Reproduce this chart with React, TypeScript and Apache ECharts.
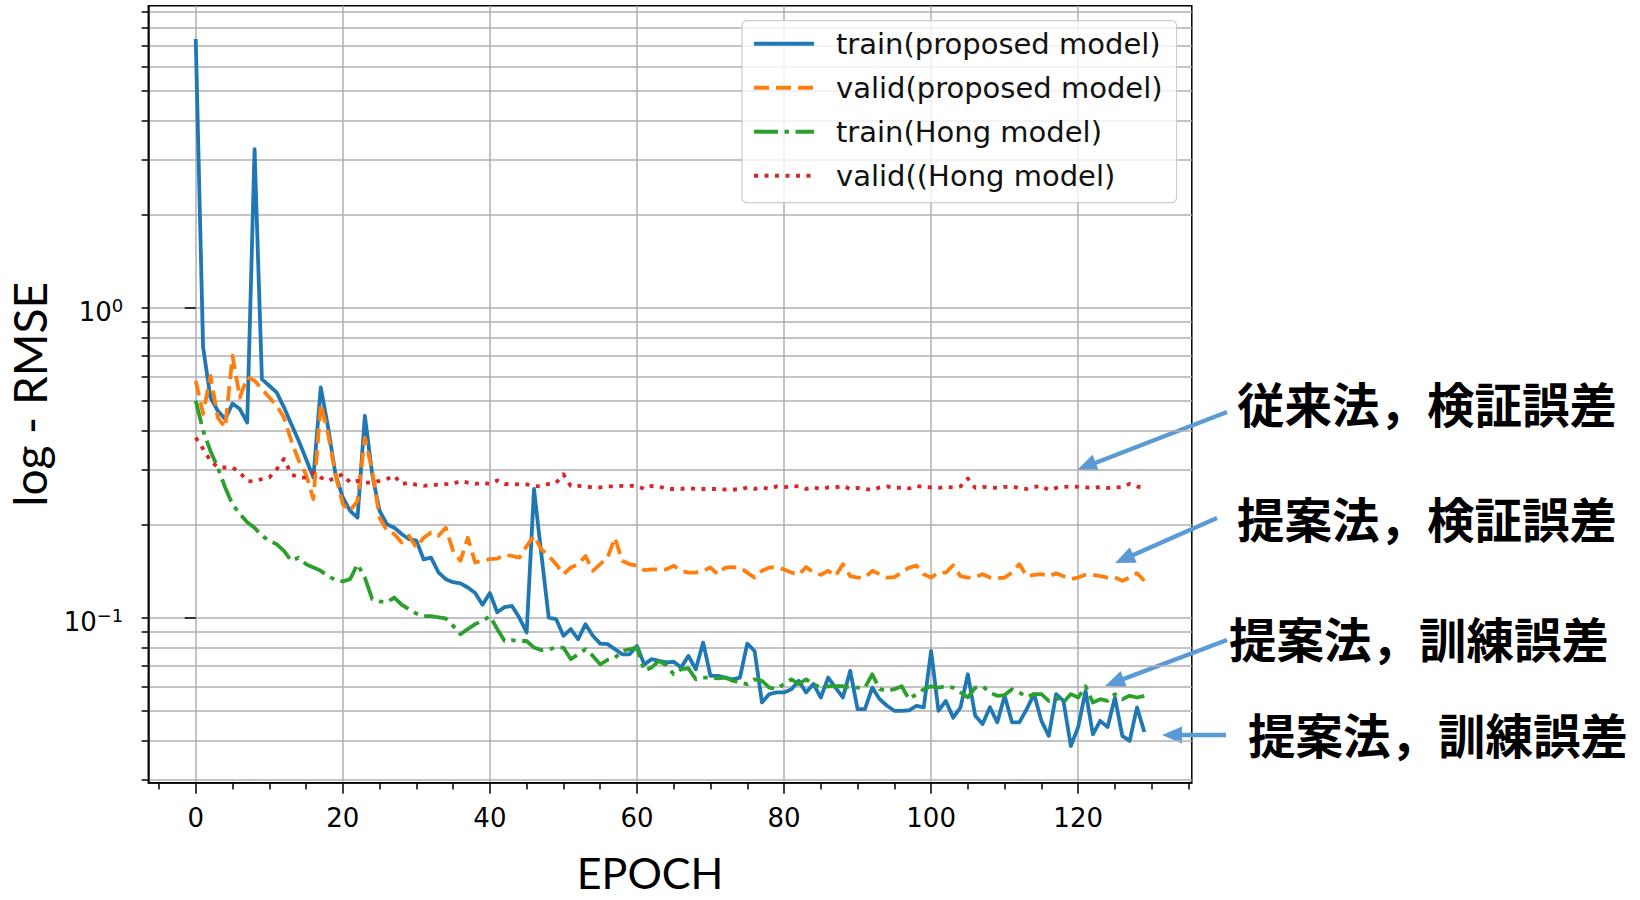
import React, { useEffect, useRef } from "react";
import * as echarts from "echarts";

// ---- data ----
const trainProposed = [
  7.37, 0.745, 0.513, 0.465, 0.437, 0.491, 0.471, 0.426, 3.25, 0.588,
  0.56, 0.533, 0.477, 0.421, 0.372, 0.325, 0.283, 0.553, 0.411, 0.29,
  0.244, 0.221, 0.21, 0.448, 0.29, 0.221, 0.2, 0.195, 0.186, 0.179,
  0.177, 0.154, 0.156, 0.14, 0.133, 0.13, 0.129, 0.125, 0.12, 0.11,
  0.12, 0.104, 0.108, 0.109, 0.1, 0.0895, 0.26, 0.16, 0.1, 0.0989,
  0.0873, 0.0918, 0.0851, 0.0952, 0.0873, 0.0824, 0.0821, 0.0791, 0.0761, 0.0761,
  0.081, 0.0706, 0.0734, 0.0725, 0.0717, 0.072, 0.069, 0.0752, 0.0681, 0.083,
  0.0648, 0.0648, 0.064, 0.0632, 0.064, 0.0824, 0.078, 0.0532, 0.0566, 0.0573,
  0.0573, 0.0587, 0.0625, 0.0573, 0.061, 0.0552, 0.064, 0.0594, 0.0552, 0.0673,
  0.0506, 0.0506, 0.0594, 0.0545, 0.0519, 0.05, 0.05, 0.0502, 0.0519, 0.0513,
  0.078, 0.05, 0.0538, 0.0475, 0.0513, 0.0656, 0.0482, 0.0453, 0.0513, 0.0459,
  0.0559, 0.0459, 0.0459, 0.0506, 0.0566, 0.0464, 0.0415, 0.0566, 0.0538, 0.0385,
  0.0443, 0.058, 0.042, 0.0464, 0.0443, 0.0552, 0.0415, 0.04, 0.0513, 0.0427,
];

const validProposed = [
  0.581, 0.454, 0.603, 0.442, 0.411, 0.7, 0.513, 0.596, 0.581, 0.546,
  0.513, 0.483, 0.442, 0.372, 0.321, 0.29, 0.241, 0.489, 0.391, 0.29,
  0.232, 0.221, 0.238, 0.381, 0.298, 0.21, 0.1905, 0.186, 0.1747, 0.1836,
  0.1683, 0.181, 0.188, 0.1836, 0.195, 0.164, 0.1525, 0.181, 0.1506, 0.1525,
  0.1544, 0.155, 0.1594, 0.158, 0.156, 0.17, 0.1836, 0.166, 0.158, 0.1487,
  0.138, 0.145, 0.1487, 0.158, 0.1415, 0.1487, 0.156, 0.181, 0.1525, 0.1487,
  0.147, 0.1423, 0.143, 0.143, 0.143, 0.147, 0.1415, 0.1397, 0.1397, 0.1415,
  0.145, 0.138, 0.145, 0.1455, 0.145, 0.1397, 0.1346, 0.1415, 0.145, 0.1455,
  0.143, 0.1397, 0.1374, 0.1455, 0.1397, 0.1374, 0.1415, 0.136, 0.1487, 0.136,
  0.1346, 0.1346, 0.1415, 0.138, 0.1346, 0.135, 0.1397, 0.145, 0.147, 0.138,
  0.1346, 0.1397, 0.1397, 0.1475, 0.136, 0.1346, 0.135, 0.138, 0.1346, 0.134,
  0.1346, 0.1397, 0.1487, 0.136, 0.1374, 0.138, 0.136, 0.139, 0.136, 0.133,
  0.1346, 0.1374, 0.1374, 0.136, 0.1346, 0.1346, 0.1314, 0.1346, 0.139, 0.1314,
];

const trainHong = [
  0.501, 0.401, 0.345, 0.305, 0.263, 0.232, 0.216, 0.203, 0.195, 0.1836,
  0.177, 0.1726, 0.164, 0.1525, 0.156, 0.1487, 0.145, 0.1415, 0.1364, 0.132,
  0.1308, 0.133, 0.1487, 0.1346, 0.1147, 0.1127, 0.112, 0.116, 0.11, 0.1064,
  0.103, 0.101, 0.101, 0.1002, 0.0993, 0.094, 0.0883, 0.0918, 0.0952, 0.0976,
  0.101, 0.0918, 0.084, 0.0845, 0.084, 0.084, 0.08, 0.0785, 0.079, 0.08,
  0.08, 0.0734, 0.0761, 0.079, 0.0752, 0.0706, 0.073, 0.0741, 0.078, 0.079,
  0.08, 0.0673, 0.069, 0.0725, 0.07, 0.0656, 0.0681, 0.0685, 0.0632, 0.064,
  0.064, 0.0636, 0.064, 0.0625, 0.0616, 0.061, 0.0632, 0.0625, 0.0594, 0.0587,
  0.061, 0.0632, 0.061, 0.0632, 0.061, 0.0594, 0.06, 0.06, 0.06, 0.0594,
  0.0594, 0.0594, 0.0656, 0.0587, 0.058, 0.0587, 0.06, 0.0545, 0.0566, 0.0587,
  0.06, 0.0594, 0.06, 0.0594, 0.0573, 0.0552, 0.0594, 0.06, 0.0573, 0.0559,
  0.0562, 0.0587, 0.0573, 0.0554, 0.0566, 0.0566, 0.0538, 0.0552, 0.0532, 0.0566,
  0.0552, 0.06, 0.0532, 0.0545, 0.0538, 0.0566, 0.0545, 0.0559, 0.0552, 0.0559,
];

const validHong = [
  0.381, 0.35, 0.321, 0.305, 0.305, 0.305, 0.294, 0.276, 0.275, 0.28,
  0.283, 0.301, 0.325, 0.29, 0.283, 0.283, 0.294, 0.283, 0.276, 0.283,
  0.29, 0.2725, 0.276, 0.2725, 0.2725, 0.276, 0.28, 0.287, 0.2696, 0.2725,
  0.268, 0.266, 0.268, 0.268, 0.2696, 0.27, 0.276, 0.2725, 0.27, 0.2725,
  0.2696, 0.277, 0.2696, 0.27, 0.269, 0.269, 0.266, 0.265, 0.27, 0.272,
  0.29, 0.266, 0.266, 0.265, 0.263, 0.263, 0.265, 0.265, 0.266, 0.266,
  0.266, 0.26, 0.266, 0.265, 0.26, 0.26, 0.26, 0.262, 0.26, 0.26,
  0.26, 0.26, 0.259, 0.259, 0.259, 0.263, 0.26, 0.263, 0.26, 0.265,
  0.263, 0.266, 0.265, 0.26, 0.263, 0.26, 0.263, 0.263, 0.266, 0.26,
  0.262, 0.26, 0.258, 0.263, 0.265, 0.262, 0.263, 0.261, 0.266, 0.264,
  0.263, 0.262, 0.264, 0.263, 0.265, 0.281, 0.262, 0.264, 0.263, 0.262,
  0.264, 0.265, 0.262, 0.26, 0.264, 0.266, 0.258, 0.262, 0.264, 0.265,
  0.264, 0.263, 0.262, 0.264, 0.262, 0.263, 0.264, 0.27, 0.265, 0.261,
];

const seriesNames = [
  "train(proposed model)",
  "valid(proposed model)",
  "train(Hong model)",
  "valid((Hong model)",
];

const xMajorTicks = [0, 20, 40, 60, 80, 100, 120];
const xMinorTicks = [
  -5, 5, 10, 15, 25, 30, 35, 45, 50, 55, 65, 70, 75, 85, 90, 95, 105, 110, 115, 125, 130, 135,
];
const yLabelTicks = [0.1, 1];
const yGridTicks = [
  0.03, 0.04, 0.05, 0.06, 0.07, 0.08, 0.09, 0.1,
  0.2, 0.3, 0.4, 0.5, 0.6, 0.7, 0.8, 0.9, 1,
  2, 3, 4, 5, 6, 7, 8, 9,
];

const X_MIN = -6.45;
const X_MAX = 135.45;
const Y_MIN = 0.0293;
const Y_MAX = 9.44;

const annotations = [
  { text: "従来法，検証誤差", x: 1237, y: 402, from: [1227, 412], to: [1077, 470] },
  { text: "提案法，検証誤差", x: 1237, y: 517, from: [1217, 518], to: [1115, 563] },
  { text: "提案法，訓練誤差", x: 1229, y: 637, from: [1227, 640], to: [1105, 686] },
  { text: "提案法，訓練誤差", x: 1248, y: 733, from: [1226, 735], to: [1162, 735] },
];

const COLORS = ["#1f77b4", "#ff7f0e", "#2ca02c", "#d62728"];
const DASHES: any[] = ["solid", [15, 7], [24, 6.5, 4.5, 6.5], [4, 6.5]];

function arrowElements(from: number[], to: number[]) {
  const [x1, y1] = from;
  const [x2, y2] = to;
  const dx = x2 - x1;
  const dy = y2 - y1;
  const len = Math.hypot(dx, dy);
  const ux = dx / len;
  const uy = dy / len;
  const hl = 20;
  const hw = 8.5;
  const bx = x2 - ux * hl;
  const by = y2 - uy * hl;
  const px = -uy;
  const py = ux;
  return [
    {
      type: "line",
      shape: { x1, y1, x2: bx + ux * 2, y2: by + uy * 2 },
      style: { stroke: "#5b9bd5", lineWidth: 4.5 },
      silent: true,
    },
    {
      type: "polygon",
      shape: {
        points: [
          [x2, y2],
          [bx + px * hw, by + py * hw],
          [bx - px * hw, by - py * hw],
        ],
      },
      style: { fill: "#5b9bd5" },
      silent: true,
    },
  ];
}

function supLabel(v: number) {
  const e = Math.round(Math.log10(v));
  const s = e < 0 ? "\u2212" + String(-e) : String(e);
  return `{b|10}{s|${s}}`;
}

export default function App() {
  const ref = useRef<HTMLDivElement>(null);

  useEffect(() => {
    if (!ref.current) return;
    const chart = echarts.init(ref.current, null, { renderer: "svg" });
    const allSeries = [trainProposed, validProposed, trainHong, validHong];

    const axisLineStyle = { color: "#000", width: 1.5 };
    const gridLineStyle = { color: "#b0b0b0", width: 1.5, type: "solid" as const };

    const graphics: any[] = [];
    annotations.forEach((a) => {
      graphics.push(...arrowElements(a.from, a.to));
      graphics.push({
        type: "text",
        x: a.x,
        y: a.y,
        silent: true,
        style: {
          text: a.text,
          fill: "#000",
          fontSize: 47.5,
          fontWeight: "bold",
          fontFamily: "Noto Sans CJK JP",
          align: "left",
          verticalAlign: "middle",
          textAlign: "left",
          textVerticalAlign: "middle",
        },
      });
    });

    chart.setOption({
      animation: false,
      backgroundColor: "#fff",
      grid: {
        left: 148.3,
        right: 1640 - 1191.8,
        top: 5.7,
        bottom: 900 - 782.7,
        show: true,
        borderColor: "#000",
        borderWidth: 1.5,
        backgroundColor: "transparent",
        containLabel: false,
        outerBoundsMode: "none",
      },
      legend: {
        orient: "vertical",
        left: 742,
        top: 20.7,
        padding: [8, 14, 12, 10],
        itemWidth: 60,
        itemHeight: 14,
        itemGap: 14,
        backgroundColor: "rgba(255,255,255,0.8)",
        borderColor: "#cccccc",
        borderWidth: 1.2,
        borderRadius: 5,
        data: seriesNames,
        itemStyle: { opacity: 0 },
        lineStyle: { width: 4 },
        textStyle: {
          fontFamily: "DejaVu Sans",
          fontSize: 29,
          color: "#111",
          lineHeight: 30,
          padding: [0, 0, 0, 17],
        },
      },
      xAxis: [
        {
          type: "value",
          min: X_MIN,
          max: X_MAX,
          position: "bottom",
          axisLine: { show: true, onZero: false, lineStyle: axisLineStyle },
          axisTick: {
            show: true,
            customValues: xMajorTicks,
            length: 11,
            lineStyle: axisLineStyle,
          },
          axisLabel: {
            show: true,
            customValues: xMajorTicks,
            margin: 22,
            fontFamily: "DejaVu Sans",
            fontSize: 26,
            color: "#000",
          },
          splitLine: { show: true, lineStyle: gridLineStyle },
          name: "EPOCH",
          nameLocation: "middle",
          nameGap: 68,
          nameTextStyle: {
            fontFamily: "Lato",
            fontSize: 43,
            lineHeight: 44,
            color: "#000",
            padding: [0, 40, 0, 0],
          },
        },
        {
          type: "value",
          min: X_MIN,
          max: X_MAX,
          position: "bottom",
          axisLine: { show: false },
          axisTick: {
            show: true,
            customValues: xMinorTicks,
            length: 6.7,
            lineStyle: axisLineStyle,
          },
          axisLabel: { show: false },
          splitLine: { show: false },
        },
      ],
      yAxis: [
        {
          type: "log",
          logBase: 10,
          min: Y_MIN,
          max: Y_MAX,
          position: "left",
          axisLine: { show: true, onZero: false, lineStyle: axisLineStyle },
          axisTick: {
            show: true,
            customValues: yGridTicks,
            length: 6.7,
            lineStyle: axisLineStyle,
          },
          minorTick: { show: false },
          splitLine: { show: true, lineStyle: gridLineStyle },
          axisLabel: {
            show: true,
            customValues: yLabelTicks,
            margin: 25,
            formatter: (v: number) => supLabel(v),
            padding: [8, 0, 0, 0],
            rich: {
              b: {
                fontFamily: "DejaVu Sans",
                fontSize: 26,
                color: "#000",
                lineHeight: 30,
                verticalAlign: "middle",
              },
              s: {
                fontFamily: "DejaVu Sans",
                fontSize: 18,
                color: "#000",
                lineHeight: 18,
                verticalAlign: "top",
              },
            },
          },
          name: "log - RMSE",
          nameLocation: "middle",
          nameRotate: 90,
          nameGap: 96,
          nameTextStyle: {
            fontFamily: "Lato",
            fontSize: 46,
            color: "#000",
          },
        },
        {
          type: "log",
          logBase: 10,
          min: Y_MIN,
          max: Y_MAX,
          position: "left",
          axisLine: { show: false },
          axisTick: {
            show: true,
            customValues: yLabelTicks,
            length: 11,
            lineStyle: axisLineStyle,
          },
          axisLabel: { show: false },
          splitLine: { show: false },
          minorTick: { show: false },
        },
      ],
      series: allSeries.map((vals, k) => ({
        name: seriesNames[k],
        type: "line",
        xAxisIndex: 0,
        yAxisIndex: 0,
        symbol: "none",
        showSymbol: false,
        color: COLORS[k],
        lineStyle: {
          color: COLORS[k],
          width: 3.8,
          type: DASHES[k],
          join: "round",
        },
        data: vals.map((v, i) => [i, v]),
        z: 3 + k,
      })),
      graphic: graphics,
    });

    return () => chart.dispose();
  }, []);

  return (
    <div
      ref={ref}
      style={{ position: "fixed", left: 0, top: 0, width: 1640, height: 900, background: "#fff" }}
    />
  );
}
